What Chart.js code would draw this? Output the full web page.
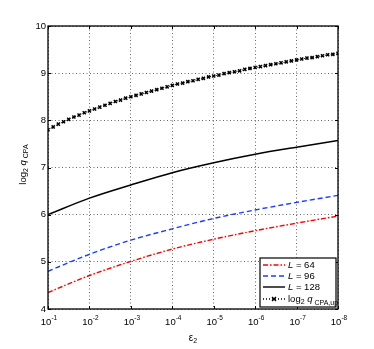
<!DOCTYPE html>
<html>
<head>
<meta charset="utf-8">
<script src="https://cdn.jsdelivr.net/npm/chart.js@4"></script>
<style>
  html, body { margin: 0; padding: 0; background: #fff; }
  #wrap { width: 374px; height: 349px; }
</style>
</head>
<body>
<div id="wrap"><canvas id="chart" width="374" height="349"></canvas></div>
<script>
// x axis: eps_2 = 10^-n, n from 1 to 8 (drawn as exponent on a linear scale)
const epsExp = [1, 2, 3, 4, 5, 6, 7, 8];
const xTickLabels = ['-1', '-2', '-3', '-4', '-5', '-6', '-7', '-8'];
const yTicks = [4, 5, 6, 7, 8, 9, 10];

// curves
const l64 = [4.35, 4.71, 5.01, 5.27, 5.48, 5.66, 5.82, 5.97];
const l96 = [4.80, 5.16, 5.46, 5.70, 5.92, 6.10, 6.26, 6.41];
const l128 = [6.00, 6.35, 6.63, 6.89, 7.10, 7.28, 7.43, 7.57];

// upper bound, sampled 8 times per decade (dense markers)
const cpaUp = [
  7.80, 7.86, 7.92, 7.97, 8.02, 8.07, 8.11, 8.16,
  8.20, 8.24, 8.28, 8.32, 8.36, 8.40, 8.43, 8.47,
  8.50, 8.53, 8.56, 8.59, 8.62, 8.65, 8.68, 8.71,
  8.74, 8.77, 8.79, 8.82, 8.84, 8.87, 8.89, 8.92,
  8.94, 8.96, 8.99, 9.01, 9.03, 9.05, 9.08, 9.10,
  9.12, 9.14, 9.16, 9.18, 9.20, 9.22, 9.24, 9.26,
  9.28, 9.30, 9.32, 9.33, 9.35, 9.37, 9.39, 9.40, 9.42
];
const cpaExp = cpaUp.map((_, i) => 1 + i / 8);

const FONT = 'Liberation Sans, Arial, Helvetica, sans-serif';
const RED = '#ff0000';
const BLUE = '#1a3cff';

function pts(xs, ys) {
  return ys.map((y, i) => ({x: xs[i], y: y}));
}

// draw a run of text pieces (sub/superscripts via dy), returns end x
function drawRich(ctx, parts, x, y) {
  parts.forEach(p => {
    ctx.font = (p.italic ? 'italic ' : '') + p.size + 'px ' + FONT;
    ctx.fillText(p.text, x, y + (p.dy || 0));
    x += ctx.measureText(p.text).width;
  });
  return x;
}

function richWidth(ctx, parts) {
  let w = 0;
  parts.forEach(p => {
    ctx.font = (p.italic ? 'italic ' : '') + p.size + 'px ' + FONT;
    w += ctx.measureText(p.text).width;
  });
  return w;
}

const decorations = {
  id: 'decorations',
  afterDraw(chart) {
    const ctx = chart.ctx;
    const a = chart.chartArea;
    const xs = chart.scales.x;
    const ys = chart.scales.y;
    ctx.save();

    // axis box
    ctx.strokeStyle = '#000';
    ctx.lineWidth = 1.3;
    ctx.strokeRect(a.left, a.top, a.right - a.left, a.bottom - a.top);

    // inward tick marks
    ctx.lineWidth = 1;
    ctx.beginPath();
    epsExp.forEach(n => {
      const px = Math.round(xs.getPixelForValue(n)) + 0.5;
      ctx.moveTo(px, a.bottom); ctx.lineTo(px, a.bottom - 3);
      ctx.moveTo(px, a.top); ctx.lineTo(px, a.top + 3);
    });
    yTicks.forEach(v => {
      const py = Math.round(ys.getPixelForValue(v)) + 0.5;
      ctx.moveTo(a.left, py); ctx.lineTo(a.left + 3, py);
      ctx.moveTo(a.right, py); ctx.lineTo(a.right - 3, py);
    });
    ctx.stroke();

    ctx.fillStyle = '#000';
    ctx.textBaseline = 'middle';

    // y tick labels
    ctx.font = '9.5px ' + FONT;
    ctx.textAlign = 'right';
    yTicks.forEach(v => {
      ctx.fillText(String(v), a.left - 2, ys.getPixelForValue(v));
    });

    // x tick labels 10^-n
    ctx.textAlign = 'left';
    epsExp.forEach((n, i) => {
      const parts = [
        {text: '10', size: 9.5},
        {text: xTickLabels[i], size: 6.5, dy: -4}
      ];
      const w = richWidth(ctx, parts);
      drawRich(ctx, parts, xs.getPixelForValue(n) - w / 2 + 1, a.bottom + 13);
    });

    // x axis title: eps_2
    const xt = [
      {text: '\u03b5', size: 10},
      {text: '2', size: 7, dy: 3}
    ];
    drawRich(ctx, xt, (a.left + a.right) / 2 - richWidth(ctx, xt) / 2, a.bottom + 29);

    // y axis title: log2 q CPA
    const yt = [
      {text: 'log', size: 9.5},
      {text: '2', size: 7, dy: 3},
      {text: ' ', size: 9.5},
      {text: 'q', size: 9.5, italic: true},
      {text: ' CPA', size: 7, dy: 3}
    ];
    ctx.save();
    ctx.translate(23, (a.top + a.bottom) / 2 - 3);
    ctx.rotate(-Math.PI / 2);
    drawRich(ctx, yt, -richWidth(ctx, yt) / 2, 0);
    ctx.restore();

    // legend
    const lx = 260, ly = 258, lw = 76, lh = 49;
    ctx.fillStyle = '#fff';
    ctx.fillRect(lx, ly, lw, lh);
    ctx.strokeStyle = '#000';
    ctx.lineWidth = 1.2;
    ctx.strokeRect(lx, ly, lw, lh);

    const rows = [
      {y: 265, color: RED, dash: [5, 2, 1.5, 2], label: [{text: 'L', size: 9.5, italic: true}, {text: ' = 64', size: 9.5}]},
      {y: 276, color: BLUE, dash: [5, 3], label: [{text: 'L', size: 9.5, italic: true}, {text: ' = 96', size: 9.5}]},
      {y: 287, color: '#000', dash: [], label: [{text: 'L', size: 9.5, italic: true}, {text: ' = 128', size: 9.5}]},
      {y: 299, color: '#000', dash: [1, 2], marker: true, label: [
        {text: 'log', size: 9.5},
        {text: '2', size: 7, dy: 3},
        {text: ' ', size: 9.5},
        {text: 'q', size: 9.5, italic: true},
        {text: ' CPA,up', size: 7, dy: 4}
      ]}
    ];
    rows.forEach(r => {
      ctx.strokeStyle = r.color;
      ctx.lineWidth = 1.4;
      ctx.setLineDash(r.dash);
      ctx.beginPath();
      ctx.moveTo(263, r.y); ctx.lineTo(285, r.y);
      ctx.stroke();
      ctx.setLineDash([]);
      if (r.marker) {
        ctx.lineWidth = 1.4;
        ctx.beginPath();
        ctx.moveTo(272, r.y - 2); ctx.lineTo(276, r.y + 2);
        ctx.moveTo(276, r.y - 2); ctx.lineTo(272, r.y + 2);
        ctx.stroke();
      }
      ctx.fillStyle = '#000';
      drawRich(ctx, r.label, 288, r.y);
    });

    ctx.restore();
  }
};

new Chart(document.getElementById('chart'), {
  type: 'line',
  data: {
    datasets: [
      {
        label: 'L = 64',
        data: pts(epsExp, l64),
        borderColor: RED,
        borderWidth: 1.4,
        borderDash: [5, 2, 1.5, 2],
        pointRadius: 0,
        cubicInterpolationMode: 'monotone'
      },
      {
        label: 'L = 96',
        data: pts(epsExp, l96),
        borderColor: BLUE,
        borderWidth: 1.4,
        borderDash: [5, 3],
        pointRadius: 0,
        cubicInterpolationMode: 'monotone'
      },
      {
        label: 'L = 128',
        data: pts(epsExp, l128),
        borderColor: '#000',
        borderWidth: 1.5,
        pointRadius: 0,
        cubicInterpolationMode: 'monotone'
      },
      {
        label: 'log2 q CPA,up',
        data: pts(cpaExp, cpaUp),
        borderColor: '#000',
        borderWidth: 1,
        borderDash: [1, 2],
        pointStyle: 'crossRot',
        pointRadius: 2.2,
        pointBorderWidth: 1.5,
        pointBorderColor: '#000',
        pointBackgroundColor: '#000'
      }
    ]
  },
  options: {
    responsive: false,
    animation: false,
    events: [],
    layout: {padding: {left: 48, top: 26, right: 36, bottom: 40}},
    plugins: {
      legend: {display: false},
      tooltip: {enabled: false}
    },
    scales: {
      x: {
        type: 'linear',
        min: 1,
        max: 8,
        ticks: {display: false, stepSize: 1},
        grid: {
          drawTicks: false,
          color: 'rgba(0,0,0,0.6)',
          lineWidth: 1
        },
        border: {display: false, dash: [1, 2.5]}
      },
      y: {
        min: 4,
        max: 10,
        ticks: {display: false, stepSize: 1},
        grid: {
          drawTicks: false,
          color: 'rgba(0,0,0,0.6)',
          lineWidth: 1
        },
        border: {display: false, dash: [1, 2.5]}
      }
    }
  },
  plugins: [decorations]
});
</script>
</body>
</html>
